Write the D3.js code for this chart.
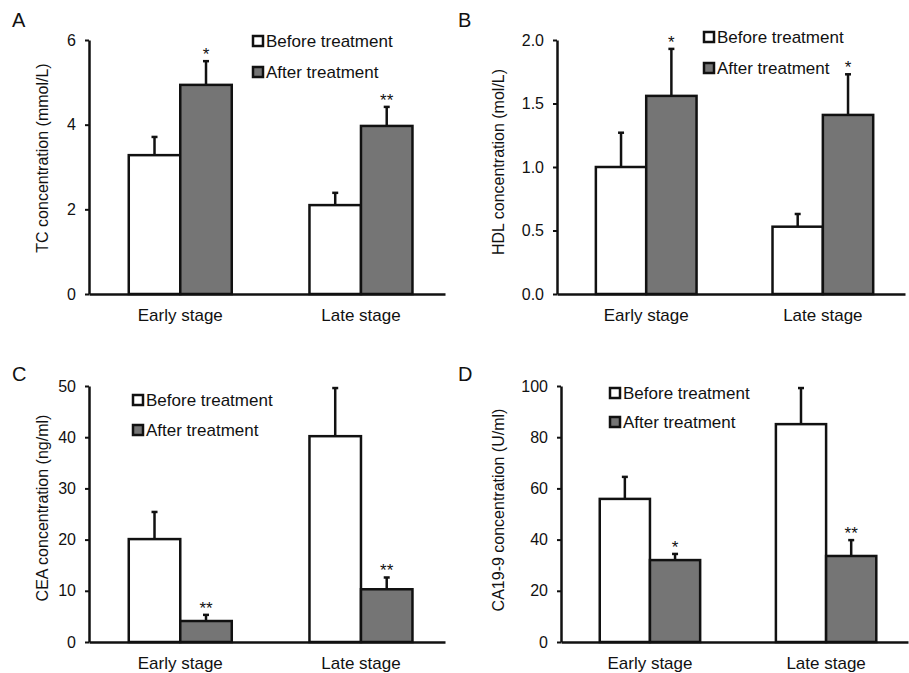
<!DOCTYPE html>
<html lang="en">
<head>
	<meta charset="utf-8"/>
	<title>Tumour markers and lipids before/after treatment</title>
	<script src="https://d3js.org/d3.v7.min.js"></script>
	<style>
	  body { margin: 0; background: #fff; }
	  svg { font-family: "Liberation Sans", Arial, sans-serif; }
	  .axis .domain { stroke: #111; stroke-width: 2.5px; }
	  .axis line { stroke: #111; stroke-width: 2px; }
	  .axis text { fill: #111; }
	</style>
</head>
<body>
<div id="chart"></div>

<script>
// categories and series
var categories = ["Early stage", "Late stage"];
var seriesNames = ["Before treatment", "After treatment"];

// A: TC (mmol/L)
var tcBefore = [3.28, 2.10];
var tcBeforeErr = [0.43, 0.29];
var tcAfter = [4.94, 3.97];
var tcAfterErr = [0.56, 0.45];
var tcStars = ["*", "**"];
var tcTicks = [0, 2, 4, 6];

// B: HDL (mol/L)
var hdlBefore = [1.00, 0.53];
var hdlBeforeErr = [0.27, 0.10];
var hdlAfter = [1.56, 1.41];
var hdlAfterErr = [0.37, 0.32];
var hdlStars = ["*", "*"];
var hdlTicks = [0, 0.5, 1.0, 1.5, 2.0];

// C: CEA (ng/ml)
var ceaBefore = [20.1, 40.2];
var ceaBeforeErr = [5.3, 9.4];
var ceaAfter = [4.1, 10.3];
var ceaAfterErr = [1.2, 2.3];
var ceaStars = ["**", "**"];
var ceaTicks = [0, 10, 20, 30, 40, 50];

// D: CA19-9 (U/ml)
var caBefore = [55.9, 85.1];
var caBeforeErr = [8.6, 14.1];
var caAfter = [32.0, 33.6];
var caAfterErr = [2.4, 6.2];
var caStars = ["*", "**"];
var caTicks = [0, 20, 40, 60, 80, 100];

var panels = [
  { letter: "A", title: "TC concentration (mmol/L)", fmt: "d",
    before: tcBefore, beforeErr: tcBeforeErr, after: tcAfter, afterErr: tcAfterErr,
    stars: tcStars, ticks: tcTicks,
    x0: 89, x1: 445, top: 40, bottom: 294, titleX: 42, titleY: 158,
    legX: 252, legY: [41, 72], lx: 12, ly: 27 },
  { letter: "B", title: "HDL concentration (mol/L)", fmt: ".1f",
    before: hdlBefore, beforeErr: hdlBeforeErr, after: hdlAfter, afterErr: hdlAfterErr,
    stars: hdlStars, ticks: hdlTicks,
    x0: 557, x1: 905, top: 40, bottom: 294, titleX: 498, titleY: 162,
    legX: 703, legY: [37, 68], lx: 458, ly: 27 },
  { letter: "C", title: "CEA concentration (ng/ml)", fmt: "d",
    before: ceaBefore, beforeErr: ceaBeforeErr, after: ceaAfter, afterErr: ceaAfterErr,
    stars: ceaStars, ticks: ceaTicks,
    x0: 89, x1: 445, top: 386, bottom: 642, titleX: 42, titleY: 508,
    legX: 132, legY: [400, 430], lx: 12, ly: 381 },
  { letter: "D", title: "CA19-9 concentration (U/ml)", fmt: "d",
    before: caBefore, beforeErr: caBeforeErr, after: caAfter, afterErr: caAfterErr,
    stars: caStars, ticks: caTicks,
    x0: 561, x1: 908, top: 386, bottom: 642, titleX: 498, titleY: 510,
    legX: 609, legY: [393, 422], lx: 458, ly: 381 }
];

var fills = ["#ffffff", "#757575"];

var svg = d3.select("#chart").append("svg")
	.attr("width", 909)
	.attr("height", 673);

panels.forEach(function(p) {
  var g = svg.append("g");

  var x = d3.scaleBand()
	.domain(categories)
	.range([p.x0, p.x1])
	.paddingInner(0.43)
	.paddingOuter(0.2)
	.align(0.55);
  var x1 = d3.scaleBand()
	.domain(seriesNames)
	.range([0, x.bandwidth()]);
  var y = d3.scaleLinear()
	.domain([0, d3.max(p.ticks)])
	.range([p.bottom, p.top]);

  var rows = [];
  categories.forEach(function(c, i) {
	rows.push({ cat: c, s: seriesNames[0], v: p.before[i], e: p.beforeErr[i], star: null });
	rows.push({ cat: c, s: seriesNames[1], v: p.after[i], e: p.afterErr[i], star: p.stars[i] });
  });

  // error bars (upper half only), drawn before bars
  var err = g.append("g").attr("stroke", "#111").attr("stroke-width", 2.5);
  rows.forEach(function(d) {
	var cx = x(d.cat) + x1(d.s) + x1.bandwidth() / 2;
	err.append("line")
	  .attr("x1", cx).attr("x2", cx)
	  .attr("y1", y(d.v)).attr("y2", y(d.v + d.e));
	err.append("line")
	  .attr("x1", cx - 3).attr("x2", cx + 3)
	  .attr("y1", y(d.v + d.e)).attr("y2", y(d.v + d.e));
  });

  // bars
  g.append("g").selectAll("rect")
	.data(rows)
	.enter().append("rect")
	  .attr("x", function(d) { return x(d.cat) + x1(d.s); })
	  .attr("y", function(d) { return y(d.v); })
	  .attr("width", x1.bandwidth())
	  .attr("height", function(d) { return y(0) - y(d.v); })
	  .attr("fill", function(d) { return fills[seriesNames.indexOf(d.s)]; })
	  .attr("stroke", "#111")
	  .attr("stroke-width", 2.5);

  // significance stars
  g.append("g").selectAll("text")
	.data(rows.filter(function(d) { return d.star; }))
	.enter().append("text")
	  .attr("x", function(d) { return x(d.cat) + x1(d.s) + x1.bandwidth() / 2; })
	  .attr("y", function(d) { return y(d.v + d.e) - 1; })
	  .attr("text-anchor", "middle")
	  .attr("font-size", 17)
	  .attr("fill", "#111")
	  .text(function(d) { return d.star; });

  // axes
  g.append("g")
	.attr("class", "axis")
	.attr("transform", "translate(" + p.x0 + ",0)")
	.call(d3.axisLeft(y).tickValues(p.ticks).tickFormat(d3.format(p.fmt)).tickSize(4).tickSizeOuter(0).tickPadding(9))
	.call(function(a) { a.selectAll("text").attr("font-size", 16).attr("font-family", null); });

  g.append("g")
	.attr("class", "axis")
	.attr("transform", "translate(0," + p.bottom + ")")
	.call(d3.axisBottom(x).tickSize(0).tickSizeOuter(0).tickPadding(15))
	.call(function(a) { a.selectAll("text").attr("font-size", 17).attr("font-family", null); });

  // y title
  g.append("text")
	.attr("transform", "translate(" + p.titleX + "," + p.titleY + ") rotate(-90)")
	.attr("text-anchor", "middle")
	.attr("dy", "0.35em")
	.attr("font-size", 16)
	.attr("fill", "#111")
	.text(p.title);

  // panel letter
  g.append("text")
	.attr("x", p.lx)
	.attr("y", p.ly)
	.attr("font-size", 20)
	.attr("fill", "#111")
	.text(p.letter);

  // legend
  var legend = g.append("g").selectAll("g")
	.data(seriesNames)
	.enter().append("g")
	  .attr("transform", function(d, i) { return "translate(" + p.legX + "," + p.legY[i] + ")"; });
  legend.append("rect")
	  .attr("x", 1)
	  .attr("y", -5)
	  .attr("width", 10)
	  .attr("height", 10)
	  .attr("fill", function(d, i) { return fills[i]; })
	  .attr("stroke", "#111")
	  .attr("stroke-width", 2.5);
  legend.append("text")
	  .attr("x", 14)
	  .attr("dy", "0.35em")
	  .attr("font-size", 17)
	  .attr("fill", "#111")
	  .text(function(d) { return d; });
});
</script>
</body>
</html>
